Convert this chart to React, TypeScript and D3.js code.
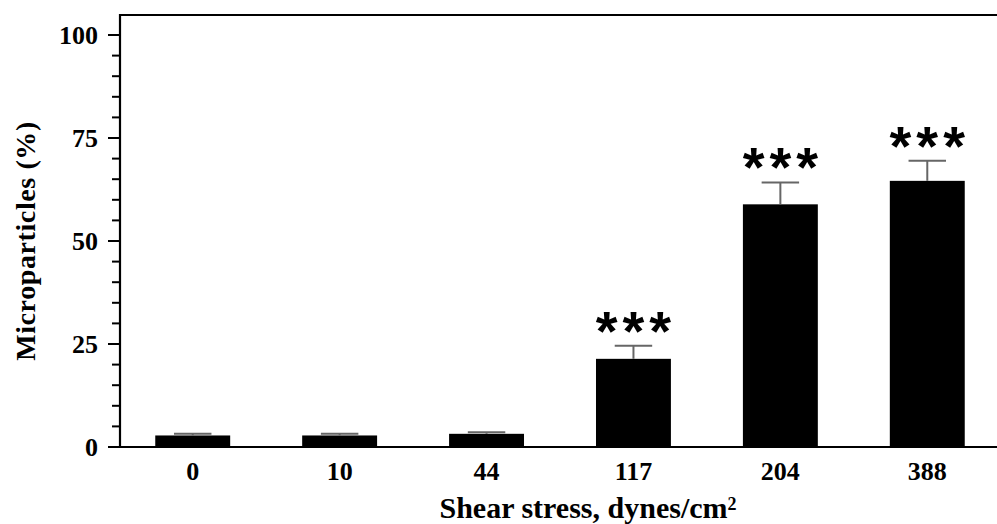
import React, { useEffect, useRef } from 'react';
import * as d3 from 'd3';

const categories = ['0', '10', '44', '117', '204', '388'];
const means = [2.8, 2.8, 3.2, 21.4, 58.9, 64.6];
const errors = [0.4, 0.4, 0.4, 3.2, 5.3, 4.9];
const significance = ['', '', '', '***', '***', '***'];
const yTicks = [0, 25, 50, 75, 100];

const W = 997, H = 524;

export default function App() {
    const ref = useRef<SVGSVGElement>(null);

    useEffect(() => {
        const svg = d3.select(ref.current);
        svg.selectAll('*').remove();

        const x = d3.scaleBand<string>()
            .domain(categories)
            .range([120, 1000])
            .paddingInner(0.49)
            .paddingOuter(0.24);
        const y = d3.scaleLinear().domain([0, 100]).range([447, 35]);

        const font = '"Liberation Serif", "Times New Roman", serif';

        // top frame line
        svg.append('line')
            .attr('x1', 119).attr('x2', W)
            .attr('y1', 15).attr('y2', 15)
            .attr('stroke', '#000').attr('stroke-width', 2.2);

        // bars
        svg.selectAll('.bar')
            .data(means)
            .enter().append('rect')
            .attr('x', (d, i) => x(categories[i])!)
            .attr('width', x.bandwidth())
            .attr('y', d => y(d))
            .attr('height', d => y(0) - y(d))
            .attr('fill', '#000');

        // error bars
        const cap = x.bandwidth() / 4;
        const eb = svg.append('g').attr('stroke', '#666').attr('stroke-width', 2);
        means.forEach((m, i) => {
            const cx = x(categories[i])! + x.bandwidth() / 2;
            eb.append('line').attr('x1', cx).attr('x2', cx)
                .attr('y1', y(m)).attr('y2', y(m + errors[i]));
            eb.append('line').attr('x1', cx - cap).attr('x2', cx + cap)
                .attr('y1', y(m + errors[i])).attr('y2', y(m + errors[i]));
        });

        // significance stars
        svg.selectAll('.sig')
            .data(significance)
            .enter().append('text')
            .attr('x', (d, i) => x(categories[i])! + x.bandwidth() / 2 + 2.5)
            .attr('y', (d, i) => y(means[i] + errors[i]) + 4)
            .attr('text-anchor', 'middle')
            .attr('font-family', '"Liberation Sans", Arial, sans-serif')
            .attr('font-weight', 'bold')
            .attr('font-size', 56)
            .attr('letter-spacing', 5)
            .text(d => d);

        // y axis
        const yAxis = svg.append('g').attr('transform', 'translate(120,0)');
        yAxis.append('line').attr('x1', 0).attr('x2', 0)
            .attr('y1', 14).attr('y2', 448)
            .attr('stroke', '#000').attr('stroke-width', 2.2);
        d3.range(0, 101, 5).forEach(v => {
            const major = v % 25 === 0;
            yAxis.append('line')
                .attr('x1', major ? -12 : -8).attr('x2', 0)
                .attr('y1', y(v)).attr('y2', y(v))
                .attr('stroke', '#000').attr('stroke-width', 2);
        });
        yAxis.selectAll('.yt')
            .data(yTicks)
            .enter().append('text')
            .attr('x', -22)
            .attr('y', d => y(d))
            .attr('dy', '0.35em')
            .attr('text-anchor', 'end')
            .attr('font-family', font)
            .attr('font-weight', 'bold')
            .attr('font-size', 26)
            .text(d => d);

        // x axis
        svg.append('line')
            .attr('x1', 110).attr('x2', W)
            .attr('y1', 447).attr('y2', 447)
            .attr('stroke', '#000').attr('stroke-width', 2.2);
        svg.selectAll('.xt')
            .data(categories)
            .enter().append('text')
            .attr('x', d => x(d)! + x.bandwidth() / 2)
            .attr('y', 480)
            .attr('text-anchor', 'middle')
            .attr('font-family', font)
            .attr('font-weight', 'bold')
            .attr('font-size', 26)
            .text(d => d);

        // axis titles
        const xt = svg.append('text')
            .attr('x', 588).attr('y', 518)
            .attr('text-anchor', 'middle')
            .attr('font-family', font)
            .attr('font-weight', 'bold')
            .attr('font-size', 30);
        xt.append('tspan').text('Shear stress, dynes/cm');
        xt.append('tspan').attr('font-size', 18).attr('dy', -8).text('2');

        svg.append('text')
            .attr('transform', 'translate(35,241) rotate(-90)')
            .attr('text-anchor', 'middle')
            .attr('font-family', font)
            .attr('font-weight', 'bold')
            .attr('font-size', 28)
            .attr('letter-spacing', 0.6)
            .text('Microparticles (%)');
    }, []);

    return (
        <svg ref={ref} width={W} height={H}
            style={{ position: 'absolute', left: 0, top: 0, background: '#fff' }} />
    );
}
